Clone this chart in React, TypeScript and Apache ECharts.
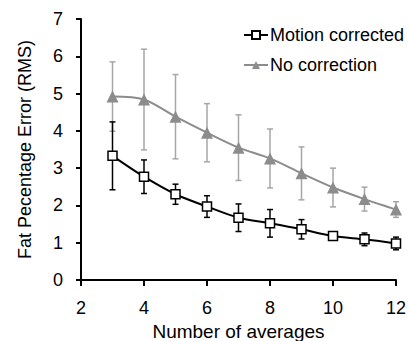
import React, { useEffect, useRef } from "react";
import * as echarts from "echarts";

const xValues = [3, 4, 5, 6, 7, 8, 9, 10, 11, 12];
const motionCorrected = [3.33, 2.77, 2.3, 1.97, 1.67, 1.52, 1.36, 1.18, 1.09, 0.98];
const motionErr = [0.91, 0.45, 0.27, 0.29, 0.37, 0.37, 0.26, 0.05, 0.17, 0.17];
const noCorrection = [4.92, 4.84, 4.38, 3.95, 3.55, 3.26, 2.86, 2.48, 2.17, 1.89];
const noCorrErr = [0.93, 1.35, 1.13, 0.78, 0.88, 0.79, 0.71, 0.52, 0.32, 0.21];

const FONT = "'Liberation Sans', Arial, sans-serif";

function errorSeries(vals: number[], errs: number[], color: string, width: number) {
  return {
    type: "custom",
    silent: true,
    z: 1,
    data: xValues.map((x, i) => [x, vals[i] - errs[i], vals[i] + errs[i]]),
    renderItem: (params: any, api: any) => {
      const x = api.value(0);
      const lo = api.coord([x, api.value(1)]);
      const hi = api.coord([x, api.value(2)]);
      const hw = 3;
      const style = { stroke: color, lineWidth: width };
      return {
        type: "group",
        children: [
          { type: "line", shape: { x1: lo[0], y1: lo[1], x2: hi[0], y2: hi[1] }, style },
          { type: "line", shape: { x1: lo[0] - hw, y1: lo[1], x2: lo[0] + hw, y2: lo[1] }, style },
          { type: "line", shape: { x1: hi[0] - hw, y1: hi[1], x2: hi[0] + hw, y2: hi[1] }, style },
        ],
      };
    },
  };
}

export default function App() {
  const ref = useRef<HTMLDivElement>(null);
  useEffect(() => {
    if (!ref.current) return;
    const chart = echarts.init(ref.current, null, { renderer: "svg" });
    chart.setOption({
      animation: false,
      backgroundColor: "#ffffff",
      textStyle: { fontFamily: FONT },
      grid: {
        left: 81,
        right: 13,
        top: 19,
        bottom: 61,
        containLabel: false,
        outerBoundsMode: "none",
      },
      legend: {
        left: 238,
        top: 21,
        orient: "vertical",
        itemGap: 12,
        itemWidth: 24,
        itemHeight: 10,
        textStyle: { fontFamily: FONT, fontSize: 18, color: "#000", padding: [0, 0, 0, -3] },
        data: ["Motion corrected", "No correction"],
      },
      xAxis: {
        type: "value",
        min: 2,
        max: 12,
        interval: 2,
        name: "Number of averages",
        nameLocation: "middle",
        nameGap: 38,
        nameTextStyle: { fontFamily: FONT, fontSize: 19, color: "#000" },
        axisLine: { show: true, lineStyle: { color: "#000", width: 2 } },
        axisTick: { show: true, inside: false, length: 6, lineStyle: { color: "#000", width: 2 } },
        axisLabel: { fontFamily: FONT, fontSize: 18, color: "#000", margin: 19 },
        splitLine: { show: false },
      },
      yAxis: {
        type: "value",
        min: 0,
        max: 7,
        interval: 1,
        name: "Fat Pecentage Error (RMS)",
        nameLocation: "middle",
        nameGap: 47,
        nameTextStyle: { fontFamily: FONT, fontSize: 18, color: "#000" },
        axisLine: { show: true, lineStyle: { color: "#000", width: 2 } },
        axisTick: { show: true, inside: false, length: 5, lineStyle: { color: "#000", width: 2 } },
        axisLabel: { fontFamily: FONT, fontSize: 18, color: "#000", margin: 18 },
        splitLine: { show: false },
      },
      series: [
        errorSeries(noCorrection, noCorrErr, "#a6a6a6", 1.5),
        errorSeries(motionCorrected, motionErr, "#000000", 1.5),
        {
          name: "No correction",
          type: "line",
          smooth: 0.3,
          z: 2,
          data: xValues.map((x, i) => [x, noCorrection[i]]),
          symbol: "triangle",
          symbolSize: 12,
          lineStyle: { color: "#8c8c8c", width: 2 },
          itemStyle: { color: "#8c8c8c", borderWidth: 0 },
        },
        {
          name: "Motion corrected",
          type: "line",
          smooth: 0.3,
          z: 3,
          data: xValues.map((x, i) => [x, motionCorrected[i]]),
          symbol: "rect",
          symbolSize: 9,
          lineStyle: { color: "#000", width: 2 },
          itemStyle: { color: "#fff", borderColor: "#000", borderWidth: 1.5 },
        },
      ],
    });
    return () => chart.dispose();
  }, []);
  return (
    <div
      ref={ref}
      style={{ position: "absolute", left: 0, top: 0, width: 409, height: 341 }}
    />
  );
}
